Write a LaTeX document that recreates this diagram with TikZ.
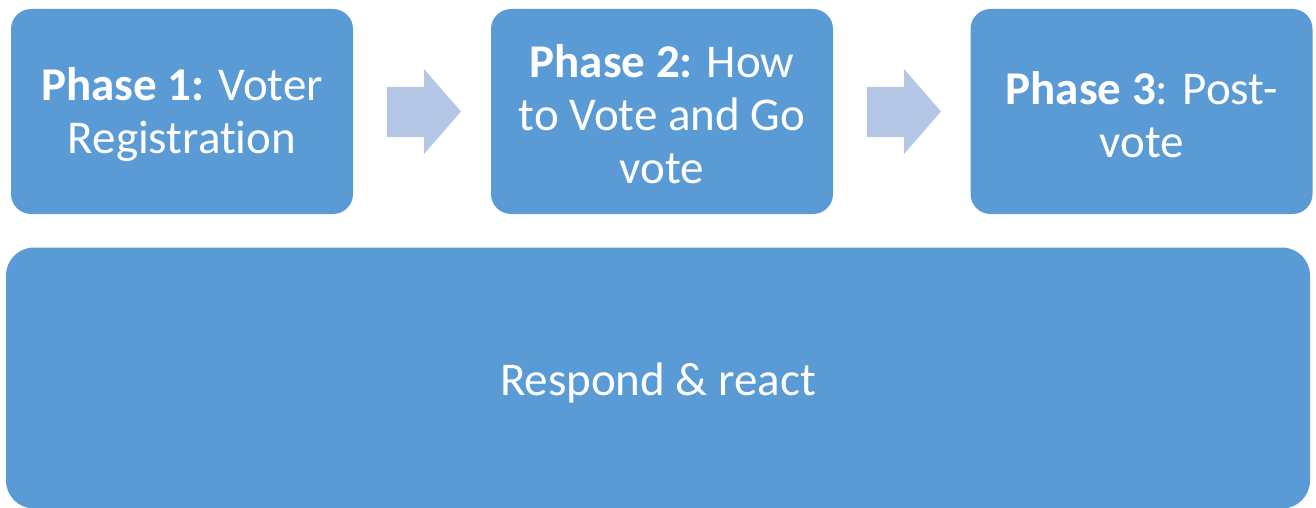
\documentclass[tikz,border=0pt]{standalone}
\usepackage{fontspec}
\setmainfont{Carlito}[Ligatures=CommonOff]
\definecolor{boxblue}{HTML}{5B9BD5}
\definecolor{arrowblue}{HTML}{B4C7E7}
\begin{document}
\begin{tikzpicture}[x=1pt,y=-1pt,
  phasebox/.style={fill=boxblue, draw=none, rounded corners=20pt, inner sep=0pt,
    minimum width=342pt, minimum height=205pt},
  bigbox/.style={fill=boxblue, draw=none, rounded corners=28pt, inner sep=0pt,
    minimum width=1304pt, minimum height=261pt},
  boxtext/.style={text=white, align=center, inner sep=0pt,
    font=\fontsize{47}{53}\selectfont},
  arrowshape/.style={fill=arrowblue, draw=none}]
\useasboundingbox (0,0) rectangle (1316,508);
\node[phasebox] (p1) at (182,111.5) {};
\node[phasebox] (p2) at (662,111.5) {};
\node[phasebox] (p3) at (1141.5,111.5) {};
\node[bigbox] (rr) at (658,378) {};
\node[boxtext] (t1) at ([yshift=-3pt]p1.center) {\textbf{Phase 1:} Voter\\Registration};
\node[boxtext] (t2) at ([yshift=-3pt]p2.center) {\textbf{Phase 2:} How\\to Vote and Go\\vote};
\node[boxtext] (t3) at ([yshift=-3pt]p3.center) {\textbf{Phase 3}: Post-\\vote};
\node[boxtext] (tr) at ([yshift=-5pt]rr.center) {Respond \& react};
% arrows between phases
\fill[arrowshape] (387,87) -- (424,87) -- (424,69) -- (461,111.5) -- (424,154) -- (424,137) -- (387,137) -- cycle;
\fill[arrowshape] (867,87) -- (904,87) -- (904,69) -- (941,111.5) -- (904,154) -- (904,137) -- (867,137) -- cycle;
\end{tikzpicture}
\end{document}
